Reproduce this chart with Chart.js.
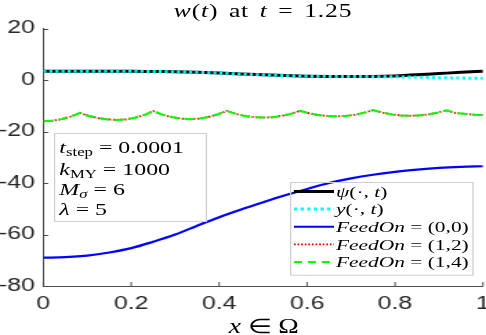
<!DOCTYPE html>
<html><head><meta charset="utf-8">
<script src="https://cdn.jsdelivr.net/npm/chart.js@4.4.1/dist/chart.umd.min.js"></script>
<style>
html,body{margin:0;padding:0;background:#fff;overflow:hidden;width:486px;height:335px}
#wrap{position:absolute;left:0;top:0;width:352px;height:335px;transform:scaleX(1.38068);transform-origin:0 0}
#c{position:absolute;left:0;top:0}
.t{position:absolute;font-family:"Liberation Serif","Times New Roman",serif;color:#000;white-space:nowrap;line-height:1}
.t i{font-style:italic}
.sb{font-size:70%;position:relative;top:0.28em}
</style></head>
<body>
<div id="wrap">
<canvas id="c" width="352" height="335"></canvas>
<div class="t" id="title" style="left:0;width:381px;text-align:center;top:1.5px;font-size:18.5px;letter-spacing:0.6px;word-spacing:2.5px"><i>w</i>(<i>t</i>) at <i>t</i> = 1.25</div>
<div class="t" id="xlabel" style="left:0;width:382px;text-align:center;top:316px;font-size:20px"><i>x</i> ∈ Ω</div>
<div id="pbox" style="position:absolute;left:39.1px;top:132.5px;width:110.6px;height:89.2px;border:1px solid #cfcfcf;box-sizing:border-box"></div>
<div class="t" style="left:43px;top:138.5px;font-size:17.3px"><i>t</i><span class="sb">step</span> = 0.0001</div>
<div class="t" style="left:43px;top:160.5px;font-size:17.3px"><i>k</i><span class="sb">MY</span> = 1000</div>
<div class="t" style="left:43px;top:181px;font-size:17.3px"><i>M</i><span class="sb"><i>σ</i></span> = 6</div>
<div class="t" style="left:43px;top:200.5px;font-size:17.3px"><i>λ</i> = 5</div>
<svg id="leg" style="position:absolute;left:209.5px;top:182.3px;overflow:visible" width="133.1" height="93.7">
 <rect x="0.5" y="0.5" width="132.1" height="92.7" fill="none" stroke="#cfcfcf" stroke-width="1"/>
 <line x1="2.9" x2="31.9" y1="9.4" y2="9.4" stroke="#000" stroke-width="3"/>
 <line x1="2.9" x2="31.9" y1="27" y2="27" stroke="#00ffff" stroke-width="3" stroke-dasharray="2.4 2.4"/>
 <line x1="2.9" x2="31.9" y1="44.7" y2="44.7" stroke="#0000ff" stroke-width="2"/>
 <line x1="2.9" x2="31.9" y1="62.3" y2="62.3" stroke="#ff0000" stroke-width="1.8" stroke-dasharray="1.3 1.3"/>
 <line x1="2.9" x2="31.9" y1="80" y2="80" stroke="#00ff00" stroke-width="2" stroke-dasharray="5.8 4.3"/>
</svg>
<div class="t" style="left:243.4px;top:183.7px;font-size:15.5px"><i>ψ</i>(·, <i>t</i>)</div>
<div class="t" style="left:243.4px;top:201.3px;font-size:15.5px"><i>y</i>(·, <i>t</i>)</div>
<div class="t" style="left:243.4px;top:219px;font-size:15.5px"><i>FeedOn</i> = (0,0)</div>
<div class="t" style="left:243.4px;top:236.6px;font-size:15.5px"><i>FeedOn</i> = (1,2)</div>
<div class="t" style="left:243.4px;top:254.3px;font-size:15.5px"><i>FeedOn</i> = (1,4)</div>
</div>
<script>
// ---- data ----
const xCoarse = [0,0.05,0.1,0.15,0.2,0.25,0.3,0.35,0.4,0.45,0.5,0.55,0.6,0.65,0.7,0.75,0.8,0.85,0.9,0.95,1.0];
const psiVals = [3.4,3.4,3.4,3.4,3.4,3.3,3.2,3.0,2.7,2.3,2.0,1.7,1.5,1.4,1.35,1.4,1.6,2.0,2.5,3.0,3.4];
const yVals   = [3.4,3.4,3.4,3.4,3.4,3.3,3.2,3.0,2.7,2.3,2.0,1.7,1.5,1.4,1.35,1.3,1.25,1.1,0.9,0.75,0.65];
const feed00  = [-69.0,-68.8,-68.2,-67.0,-65.3,-62.8,-60.0,-56.6,-53.3,-50.3,-47.5,-44.8,-42.3,-40.0,-38.2,-36.8,-35.7,-34.8,-34.1,-33.7,-33.5];
const xFine = [0,0.0208,0.0417,0.0625,0.0833,0.1042,0.125,0.1458,0.1667,0.1875,0.2083,0.2292,0.25,0.2708,0.2917,0.3125,0.3333,0.3542,0.375,0.3958,0.4167,0.4375,0.4583,0.4792,0.5,0.5208,0.5417,0.5625,0.5833,0.6042,0.625,0.6458,0.6667,0.6875,0.7083,0.7292,0.75,0.7708,0.7917,0.8125,0.8333,0.8542,0.875,0.8958,0.9167,0.9375,0.9583,0.9792,1.0];
const feed12 = [-16.0,-15.8,-15.2,-14.2,-12.8,-14.0,-14.8,-15.3,-15.5,-15.3,-14.65,-13.6,-12.1,-13.45,-14.4,-15.0,-15.2,-15.0,-14.4,-13.4,-12.0,-13.15,-13.95,-14.45,-14.6,-14.45,-13.95,-13.15,-12.0,-12.9,-13.6,-13.95,-14.1,-13.95,-13.5,-12.75,-11.7,-12.65,-13.35,-13.75,-13.9,-13.75,-13.4,-12.7,-11.8,-12.8,-13.15,-13.5,-13.6];
const feed14 = [-16.0,-15.8,-15.2,-14.2,-12.8,-14.0,-14.8,-15.3,-15.5,-15.3,-14.65,-13.6,-12.1,-13.45,-14.4,-15.0,-15.2,-15.0,-14.4,-13.4,-12.0,-13.15,-13.95,-14.45,-14.6,-14.45,-13.95,-13.15,-12.0,-12.9,-13.6,-13.95,-14.1,-13.95,-13.5,-12.75,-11.7,-12.65,-13.35,-13.75,-13.9,-13.75,-13.4,-12.7,-11.8,-12.8,-13.15,-13.5,-13.6];
const seriesLabels = ['ψ(·,t)','y(·,t)','FeedOn = (0,0)','FeedOn = (1,2)','FeedOn = (1,4)'];
const xTicks = [0,0.2,0.4,0.6,0.8,1];
const xTickLabels = ['0','0.2','0.4','0.6','0.8','1'];
const yTicks = [-80,-60,-40,-20,0,20];
const yTickLabels = ['-80','-60','-40','-20','0','20'];

const pts = (xs, ys) => xs.map((x, i) => ({x: x, y: ys[i]}));
const axisColor = '#4d4d4d';

const inwardTicks = {
  id: 'inwardTicks',
  afterDraw(chart) {
    const {ctx, chartArea: a, scales: {x, y}} = chart;
    ctx.save();
    ctx.strokeStyle = axisColor;
    ctx.lineWidth = 1;
    ctx.beginPath();
    yTicks.forEach(v => {
      const py = Math.round(y.getPixelForValue(v)) + 0.5;
      ctx.moveTo(a.left, py); ctx.lineTo(a.left + 3.6, py);
    });
    xTicks.forEach(v => {
      const px = x.getPixelForValue(v);
      ctx.moveTo(px, a.bottom); ctx.lineTo(px, a.bottom - 4);
    });
    ctx.stroke();
    ctx.restore();
  }
};

new Chart(document.getElementById('c'), {
  type: 'line',
  data: {
    datasets: [
      {label: seriesLabels[0], data: pts(xCoarse, psiVals), borderColor: '#000000', borderWidth: 3, order: 5, tension: 0.3, cubicInterpolationMode: 'monotone'},
      {label: seriesLabels[1], data: pts(xCoarse, yVals), borderColor: '#00ffff', borderWidth: 3, borderDash: [2.2, 2.2], order: 4, tension: 0.3, cubicInterpolationMode: 'monotone'},
      {label: seriesLabels[2], data: pts(xCoarse, feed00), borderColor: '#0000ff', borderWidth: 2.2, order: 3, tension: 0.3, cubicInterpolationMode: 'monotone'},
      {label: seriesLabels[3], data: pts(xFine, feed12), borderColor: '#ff0000', borderWidth: 2, borderDash: [1.3, 1.5], order: 2, tension: 0},
      {label: seriesLabels[4], data: pts(xFine, feed14), borderColor: '#00ff00', borderWidth: 2, borderDash: [7.2, 3.6], order: 1, tension: 0}
    ]
  },
  options: {
    responsive: false,
    animation: false,
    devicePixelRatio: 1,
    layout: {padding: {top: 28.5, right: 2.2, left: 0, bottom: 0}, autoPadding: false},
    plugins: {legend: {display: false}, tooltip: {enabled: false}, title: {display: false}},
    elements: {point: {radius: 0}, line: {fill: false}},
    scales: {
      x: {
        type: 'linear', min: 0, max: 1,
        afterFit: s => { s.height = 49; s.paddingLeft = 0; s.paddingRight = 0; },
        afterBuildTicks: s => { s.ticks = xTicks.map(v => ({value: v})); },
        ticks: {callback: (v) => xTickLabels[xTicks.indexOf(v)] ?? '', maxRotation: 0, padding: 7.6, color: '#262626', font: {family: 'Liberation Sans', size: 18}},
        grid: {display: true, drawOnChartArea: false, drawTicks: false},
        border: {display: true, color: axisColor, width: 1}
      },
      y: {
        type: 'linear', min: -80, max: 20,
        afterFit: s => { s.width = 31.36; s.paddingTop = 0; s.paddingBottom = 0; },
        afterBuildTicks: s => { s.ticks = yTicks.map(v => ({value: v})); },
        ticks: {callback: (v) => yTickLabels[yTicks.indexOf(v)] ?? '', padding: 6, color: '#262626', font: {family: 'Liberation Sans', size: 18}},
        grid: {display: true, drawOnChartArea: false, drawTicks: false},
        border: {display: true, color: axisColor, width: 1}
      }
    }
  },
  plugins: [inwardTicks]
});
</script>
</body></html>
